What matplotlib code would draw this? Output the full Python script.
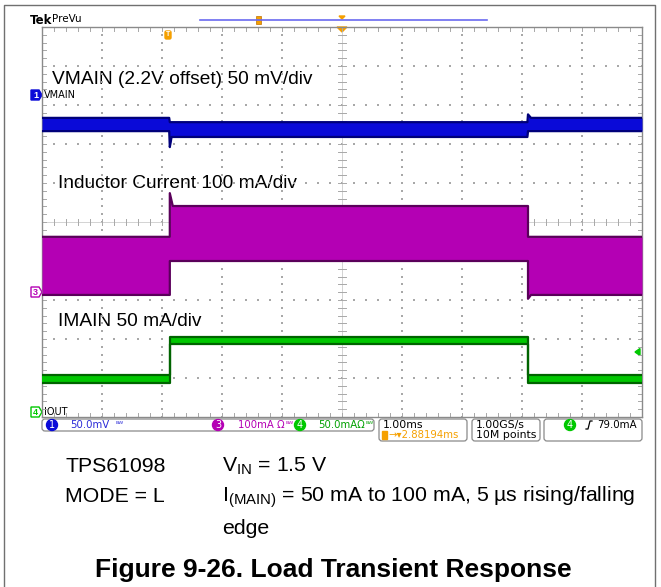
import numpy as np
import matplotlib
matplotlib.use("Agg")
import matplotlib.pyplot as plt
from matplotlib.patches import FancyBboxPatch, Polygon, Rectangle, Circle

plt.rcParams['font.family'] = ['Liberation Sans', 'DejaVu Sans']
plt.rcParams['mathtext.fontset'] = 'custom'
plt.rcParams['mathtext.rm'] = 'Liberation Sans'

# --- scope traces (time in div = ms, level in div) ---
vmain_t = [0.0, 2.12, 2.13, 2.16, 2.22, 8.09, 8.10, 8.15, 10.0]
vmain_hi = [2.67, 2.67, 2.56, 2.56, 2.56, 2.56, 2.76, 2.67, 2.67]
vmain_lo = [2.33, 2.33, 1.92, 2.18, 2.18, 2.18, 2.33, 2.33, 2.33]

il_t = [0.0, 2.13, 2.13, 2.18, 8.10, 8.10, 8.15, 10.0]
il_hi = [-0.38, -0.38, 0.74, 0.41, 0.41, -0.38, -0.38, -0.38]
il_lo = [-1.87, -1.87, -1.00, -1.00, -1.00, -1.97, -1.87, -1.87]

imain_t = [0.0, 2.13, 2.13, 8.10, 8.10, 10.0]
imain_hi = [-3.92, -3.92, -2.95, -2.95, -3.92, -3.92]
imain_lo = [-4.13, -4.13, -3.13, -3.13, -4.13, -4.13]

trace_labels = ["VMAIN (2.2V offset) 50 mV/div", "Inductor Current 100 mA/div", "IMAIN 50 mA/div"]
status_ch = ["50.0mV", "100mA Ω", "50.0mAΩ"]
timebase = "1.00ms"
trig_pos = "2.88194ms"
sample = ["1.00GS/s", "10M points"]
trig_level = "79.0mA"
notes_left = ["TPS61098", "MODE = L"]
notes_right = [r"V$_{\mathrm{IN}}$ = 1.5 V",
               r"I$_{\mathrm{(MAIN)}}$ = 50 mA to 100 mA, 5 µs rising/falling", "edge"]
caption = "Figure 9-26. Load Transient Response"

BLUE, BLUE_D = "#0a0ad8", "#00007a"
MAG, MAG_D = "#b400b4", "#5a005a"
GRN, GRN_D = "#00c800", "#006400"
ORANGE = "#f5a000"
GRID = "#a8a8a8"

W, H = 661, 587
fig = plt.figure(figsize=(W / 100, H / 100), dpi=100)

# overlay in pixel coords for decorations
ov = fig.add_axes([0, 0, 1, 1])
ov.set_xlim(0, W)
ov.set_ylim(H, 0)
ov.axis("off")

# graticule axes: x 42..642, y 27..417 px
gl, gt, gr, gb = 42, 27, 642, 417
ax = fig.add_axes([gl / W, (H - gb) / H, (gr - gl) / W, (gb - gt) / H])
ax.set_xlim(0, 10)
ax.set_ylim(-5, 5)
ax.set_xticks([])
ax.set_yticks([])
ax.patch.set_alpha(0)
for s in ax.spines.values():
    s.set_color("#8a8a8a")
    s.set_linewidth(1.0)

# dotted grid
minor = np.arange(0, 10.01, 0.2)
for yv in range(-4, 5):
    if yv != 0:
        ax.scatter(minor, np.full_like(minor, yv), s=0.6, c=GRID, marker="s", linewidths=0)
minor_y = np.arange(-5, 5.01, 0.2)
for xv in range(1, 10):
    if xv != 5:
        ax.scatter(np.full_like(minor_y, xv), minor_y, s=0.6, c=GRID, marker="s", linewidths=0)
# centre lines with ticks
ax.axhline(0, color="#cccccc", lw=0.6, zorder=1)
ax.axvline(5, color="#cccccc", lw=0.6, zorder=1)
for xm in minor:
    ax.plot([xm, xm], [-0.07, 0.07], color=GRID, lw=0.7, zorder=1)
    ax.plot([xm, xm], [-5, -4.9], color=GRID, lw=0.7, zorder=1)
    ax.plot([xm, xm], [5, 4.9], color=GRID, lw=0.7, zorder=1)
for ym in minor_y:
    ax.plot([4.94, 5.06], [ym, ym], color=GRID, lw=0.7, zorder=1)
    ax.plot([0, 0.06], [ym, ym], color=GRID, lw=0.7, zorder=1)
    ax.plot([10, 9.94], [ym, ym], color=GRID, lw=0.7, zorder=1)

# traces as filled envelopes
for t, hi, lo, c, cd in [(vmain_t, vmain_hi, vmain_lo, BLUE, BLUE_D),
                         (il_t, il_hi, il_lo, MAG, MAG_D),
                         (imain_t, imain_hi, imain_lo, GRN, GRN_D)]:
    ax.fill_between(t, lo, hi, color=c, lw=0, zorder=3)
    ax.plot(t, hi, color=cd, lw=1.6, zorder=4)
    ax.plot(t, lo, color=cd, lw=1.6, zorder=4)

# trace titles
ov.text(52, 80, trace_labels[0], fontsize=13.8, va="center", ha="left")
ov.text(58, 183, trace_labels[1], fontsize=13.8, va="center", ha="left")
ov.text(58, 322, trace_labels[2], fontsize=13.8, va="center", ha="left")

# channel markers
def ch_marker(y, num, color, filled, name):
    pts = [(31, y - 5), (39, y - 5), (42, y), (39, y + 5), (31, y + 5)]
    ov.add_patch(Polygon(pts, closed=True, fc=color if filled else "white",
                         ec=color, lw=1, zorder=6))
    ov.text(35.5, y + 0.5, num, fontsize=6.5, ha="center", va="center",
            color="white" if filled else color, fontweight="bold", zorder=7)
    ov.text(44, y, name, fontsize=7, ha="left", va="center", family="DejaVu Sans", zorder=7)

ch_marker(95, "1", BLUE, True, "VMAIN")
ch_marker(292, "3", MAG, False, "IL")
ch_marker(412, "4", GRN, False, "IOUT")

# trigger level arrow on right
ov.add_patch(Polygon([(635, 352), (640, 348.5), (640, 355.5)], fc=GRN, ec=GRN, zorder=6))

# header
ov.text(30, 20, "Tek", fontsize=8.5, fontweight="bold", ha="left", va="center", family="DejaVu Sans")
ov.text(52, 19, "PreVu", fontsize=7.5, ha="left", va="center", family="DejaVu Sans")
ov.plot([200, 487], [20, 20], color="#6a6af0", lw=1.2)
ov.add_patch(Rectangle((256, 16), 5, 8, fc=ORANGE, ec="#c07000", lw=0.5))
ov.add_patch(Polygon([(339, 16), (345, 16), (342, 19)], fc=ORANGE, ec=ORANGE))
ov.add_patch(Polygon([(337, 27), (347, 27), (342, 32)], fc=ORANGE, ec=ORANGE, zorder=6))
ov.add_patch(FancyBboxPatch((165, 31), 6, 8, boxstyle="round,pad=0,rounding_size=1.5",
                            fc=ORANGE, ec=ORANGE, zorder=6))
ov.text(168, 35, "T", fontsize=5, color="white", ha="center", va="center", fontweight="bold", zorder=7)

# status bar
def rbox(x0, y0, x1, y1):
    ov.add_patch(FancyBboxPatch((x0, y0), x1 - x0, y1 - y0,
                                boxstyle="round,pad=0,rounding_size=3",
                                fc="white", ec="#8a8a8a", lw=0.9))

def ch_badge(x, y, num, color):
    ov.add_patch(Circle((x, y), 5.5, fc=color, ec=color))
    ov.text(x, y + 0.5, num, fontsize=7, color="white", ha="center", va="center",
            family="DejaVu Sans")

sfont = dict(fontsize=7.8, va="center", ha="left", family="DejaVu Sans")
cfont = dict(fontsize=7.3, va="center", ha="left", family="DejaVu Sans")
bw = dict(fontsize=5.5, va="center", ha="left", family="DejaVu Sans")
rbox(42, 419, 374, 431)
ch_badge(52, 425, "1", BLUE)
ov.text(70, 425, status_ch[0], color="#2a2ad8", **cfont)
ov.text(116, 424, "ᴮᵂ", color="#2a2ad8", **bw)
ch_badge(218, 425, "3", MAG)
ov.text(238, 425, status_ch[1], color=MAG, **cfont)
ov.text(286, 424, "ᴮᵂ", color=MAG, **bw)
ch_badge(300, 425, "4", GRN)
ov.text(318, 425, status_ch[2], color="#00a000", **cfont)
ov.text(366, 424, "ᴮᵂ", color="#00a000", **bw)

rbox(379, 419, 467, 441)
ov.text(383, 425, timebase, color="black", **sfont)
ov.add_patch(Rectangle((382, 431), 5, 8, fc=ORANGE, ec=ORANGE))
ov.text(388, 435.5, "→▾" + trig_pos, color=ORANGE, fontsize=7.3, va="center", ha="left",
        family="DejaVu Sans")

rbox(472, 419, 540, 441)
ov.text(476, 425, sample[0], color="black", **sfont)
ov.text(476, 435.5, sample[1], color="black", **sfont)

rbox(544, 419, 642, 441)
ch_badge(570, 425, "4", GRN)
ov.plot([586, 588, 590, 592], [429, 429, 421, 421], color="black", lw=0.9)
ov.text(597, 425, trig_level, color="black", fontsize=7.4, va="center", ha="left",
        family="DejaVu Sans")

# outer frame
ov.plot([4, 4, 655, 655], [H, 5, 5, H], color="#707070", lw=1.0)

# notes
ov.text(65, 466, notes_left[0], fontsize=15.3, va="center", ha="left")
ov.text(65, 497, notes_left[1], fontsize=15.3, va="center", ha="left")
ov.text(222, 466, notes_right[0], fontsize=15.3, va="center", ha="left")
ov.text(222, 497, notes_right[1], fontsize=15.3, va="center", ha="left")
ov.text(222, 528, notes_right[2], fontsize=15.3, va="center", ha="left")
ov.text(333, 570, caption, fontsize=19, fontweight="bold", va="center", ha="center")

fig.savefig("out.png", dpi=100)
